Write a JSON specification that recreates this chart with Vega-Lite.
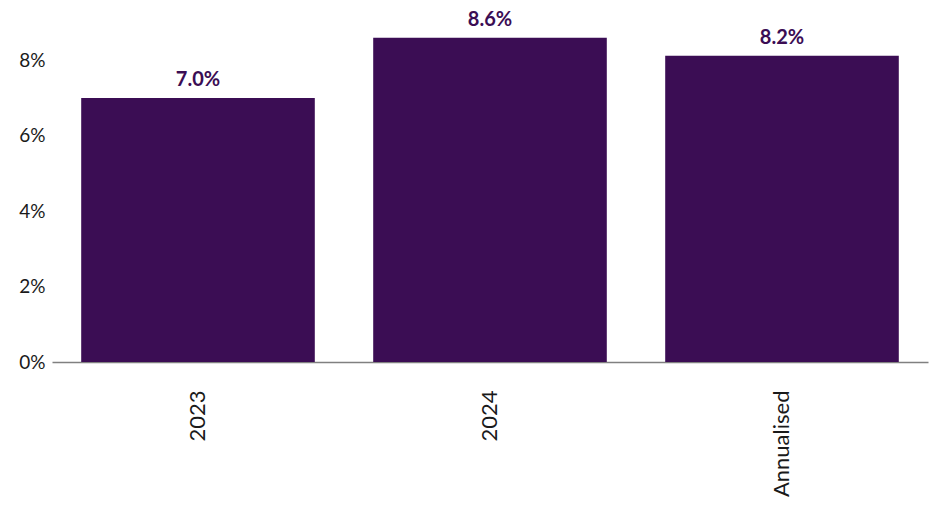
{
  "$schema": "https://vega.github.io/schema/vega-lite/v6.json",
  "autosize": "none",
  "width": 876,
  "height": 362,
  "padding": {"left": 52, "top": 0, "right": 8, "bottom": 148},
  "background": "white",
  "config": {"view": {"stroke": null}, "font": "Lato"},
  "data": {"values": [
    {"period": "2023", "value": 7.0, "label": "7.0%"},
    {"period": "2024", "value": 8.6, "label": "8.6%"},
    {"period": "Annualised", "value": 8.12, "label": "8.2%"}
  ]},
  "encoding": {
    "x": {"field": "period", "type": "nominal", "sort": null,
      "scale": {"paddingInner": 0.2, "paddingOuter": 0.1},
      "axis": {"title": null, "labelAngle": -90, "labelAlign": "right", "labelBaseline": "middle", "labelPadding": 28, "ticks": false, "domainColor": "#808080", "domainWidth": 1.5, "labelFontSize": 22, "labelColor": "#1a1a1a", "labelFont": "Lato"}},
    "y": {"field": "value", "type": "quantitative",
      "scale": {"domain": [0, 9.6], "nice": false},
      "axis": {"title": null, "values": [0, 2, 4, 6, 8], "grid": false, "domain": false, "ticks": false, "labelPadding": 7, "labelExpr": "datum.value + '%'", "labelFontSize": 19, "labelColor": "#1a1a1a", "labelFont": "Lato"}}
  },
  "layer": [
    {"mark": {"type": "bar", "color": "#3B0D54"}},
    {"mark": {"type": "text", "baseline": "bottom", "dy": -8, "fontSize": 20, "fontWeight": "bold", "color": "#3B0D54", "font": "Lato"},
     "encoding": {"text": {"field": "label"}}}
  ]
}
